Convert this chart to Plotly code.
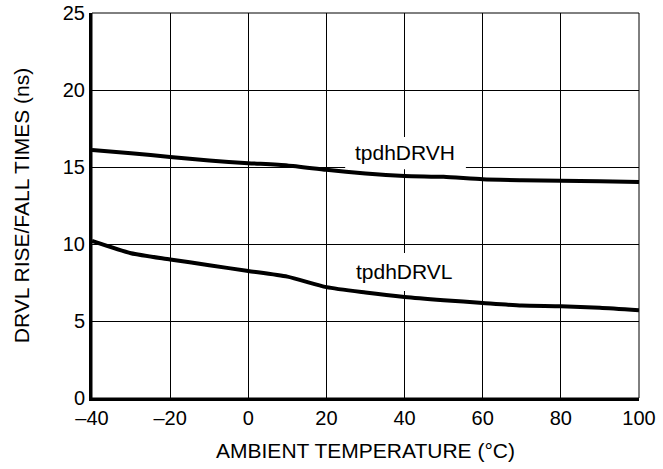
import plotly.graph_objects as go

temp = [-40, -30, -20, -10, 0, 10, 20, 30, 40, 50, 60, 70, 80, 90, 100]
tpdh_drvh = [16.1, 15.9, 15.65, 15.42, 15.25, 15.1, 14.82, 14.58, 14.42, 14.36, 14.2, 14.14, 14.1, 14.07, 14.03]
tpdh_drvl = [10.2, 9.4, 9.0, 8.62, 8.25, 7.88, 7.2, 6.85, 6.56, 6.35, 6.17, 6.0, 5.96, 5.86, 5.7]

x_ticks = [-40, -20, 0, 20, 40, 60, 80, 100]
x_ticktext = ["–40", "–20", "0", "20", "40", "60", "80", "100"]
y_ticks = [0, 5, 10, 15, 20, 25]

FONT = "Liberation Sans, Arial, Helvetica, sans-serif"
TICK_SIZE = 20
TITLE_SIZE = 21

fig = go.Figure()
fig.add_trace(go.Scatter(x=temp, y=tpdh_drvh, mode="lines", line=dict(color="black", width=4, shape="spline", smoothing=0.6), showlegend=False, hoverinfo="skip"))
fig.add_trace(go.Scatter(x=temp, y=tpdh_drvl, mode="lines", line=dict(color="black", width=4, shape="spline", smoothing=0.6), showlegend=False, hoverinfo="skip"))

# white label boxes that break the grid
fig.add_shape(type="rect", xref="x", yref="y", x0=24.8, x1=55.7, y0=14.85, y1=16.95,
              fillcolor="white", line=dict(width=0), layer="between")
fig.add_shape(type="rect", xref="x", yref="y", x0=24.8, x1=55.7, y0=6.95, y1=9.42,
              fillcolor="white", line=dict(width=0), layer="between")
# thin top/right frame
fig.add_shape(type="rect", xref="paper", yref="paper", x0=0, x1=1, y0=0, y1=1,
              line=dict(color="black", width=1), layer="below")

fig.add_annotation(x=40, y=15.95, xref="x", yref="y", text="tpdhDRVH", showarrow=False,
                   font=dict(family=FONT, size=TITLE_SIZE, color="black"))
fig.add_annotation(x=40, y=8.2, xref="x", yref="y", text="tpdhDRVL", showarrow=False,
                   font=dict(family=FONT, size=TITLE_SIZE, color="black"))

fig.update_xaxes(range=[-40, 100], tickvals=x_ticks, ticktext=x_ticktext,
                 showgrid=True, gridcolor="black", gridwidth=1,
                 showline=True, linecolor="black", linewidth=3, zeroline=False,
                 ticks="", ticklen=0, automargin=False,
                 tickfont=dict(family=FONT, size=TICK_SIZE, color="black"),
                 title=dict(text="AMBIENT TEMPERATURE (°C)", font=dict(family=FONT, size=TITLE_SIZE, color="black"), standoff=16))
fig.update_yaxes(range=[0, 25], tickvals=y_ticks,
                 showgrid=True, gridcolor="black", gridwidth=1,
                 showline=True, linecolor="black", linewidth=3, zeroline=False,
                 ticks="", ticklen=0, automargin=False,
                 tickfont=dict(family=FONT, size=TICK_SIZE, color="black"),
                 title=dict(text="DRVL RISE/FALL TIMES (ns)", font=dict(family=FONT, size=TITLE_SIZE, color="black"), standoff=28))

fig.update_layout(width=663, height=469, margin=dict(l=92, r=24, t=13, b=71),
                  paper_bgcolor="white", plot_bgcolor="white",
                  font=dict(family=FONT, color="black"))

fig.write_html("out.html", config={"displayModeBar": False, "staticPlot": True},
               post_script="document.body.style.margin='0';")
